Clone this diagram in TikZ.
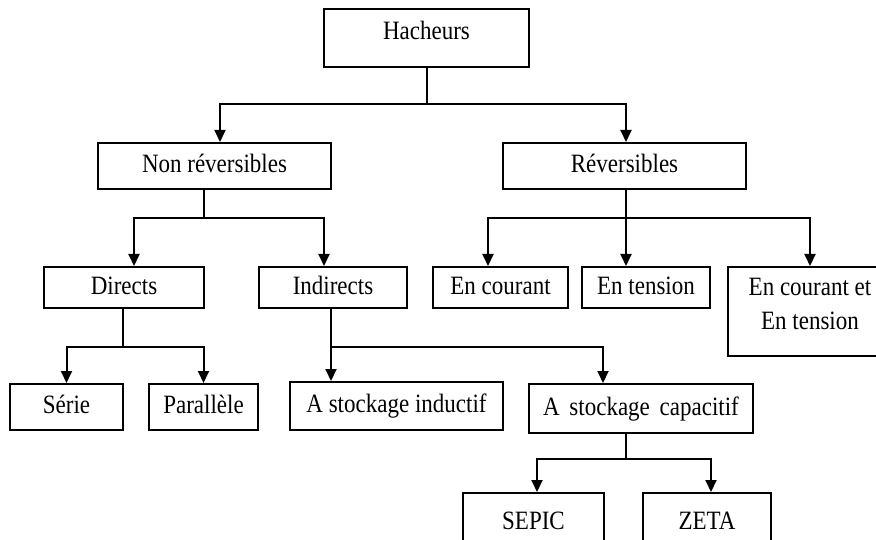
\documentclass[tikz,border=0pt]{standalone}
\usepackage{fontspec}
\setmainfont{Liberation Serif}
\usepackage{graphicx}
\usetikzlibrary{arrows.meta}
\newcommand{\bt}[1]{\scalebox{1}[1.15]{\begin{tabular}{@{}c@{}}#1\end{tabular}}}
\newcommand{\upby}[2]{\raisebox{#1}[\height][\depth]{#2}}
\begin{document}
\begin{tikzpicture}[x=1pt,y=-1pt,
  box/.style={draw=black, line width=2pt, inner sep=0pt, fill=white,
    font=\fontsize{23}{30}\selectfont},
  conn/.style={line width=2pt},
  arr/.style={conn, -{Triangle[width=11pt,length=12pt]}}]
\useasboundingbox (0,0) rectangle (876,540);
\fill[white] (0,0) rectangle (876,540);
\clip (0,0) rectangle (876,540);

% nodes
\node[box, minimum width=205pt, minimum height=58pt] (H) at (426.5,38) {\upby{5pt}{\bt{Hacheurs}}};
\node[box, minimum width=233pt, minimum height=46pt] (NR) at (214.5,166) {\bt{Non réversibles}};
\node[box, minimum width=243pt, minimum height=46pt] (R) at (624.5,166) {\bt{Réversibles}};
\node[box, minimum width=160pt, minimum height=41pt] (D) at (124,287.5) {\bt{Directs}};
\node[box, minimum width=148pt, minimum height=41pt] (I) at (333,287.5) {\bt{Indirects}};
\node[box, minimum width=135pt, minimum height=41pt] (EC) at (500.5,287.5) {\bt{En courant}};
\node[box, minimum width=128pt, minimum height=41pt] (ET) at (646,287.5) {\bt{En tension}};
\node[box, minimum width=164pt, minimum height=89pt] (ECT) at (810,311.5) {\upby{6pt}{\bt{En courant et\\En tension}}};
\node[box, minimum width=113pt, minimum height=46pt] (S) at (66.5,407) {\bt{Série}};
\node[box, minimum width=109pt, minimum height=46pt] (P) at (203.5,407) {\bt{Parallèle}};
\node[box, minimum width=213pt, minimum height=48pt] (ASI) at (396.5,406) {\bt{A stockage inductif}};
\node[box, minimum width=224pt, minimum height=49pt] (ASC) at (641,408.5) {\bt{A\hspace{4pt} stockage\hspace{4pt} capacitif}};
\node[box, minimum width=141pt, minimum height=60pt] (SE) at (533.5,523) {\bt{SEPIC}};
\node[box, minimum width=128pt, minimum height=60pt] (ZE) at (707,523) {\bt{ZETA}};

% bus coordinates
\coordinate (bH) at (426.5,104);
\coordinate (bNR) at (204,218);
\coordinate (bR) at (626,218);
\coordinate (bD) at (123,347);
\coordinate (bI) at (331,347);
\coordinate (bASC) at (626,459);

% connectors
\draw[conn] (H.south) -- (bH);
\draw[arr] (bH) -| ([xshift=5.5pt]NR.north);
\draw[arr] (bH) -| ([xshift=1.5pt]R.north);

\draw[conn] (NR.south -| bNR) -- (bNR);
\draw[arr] (bNR) -| ([xshift=10pt]D.north);
\draw[arr] (bNR) -| ([xshift=-9pt]I.north);

\draw[conn] (R.south -| bR) -- (bR);
\draw[arr] (bR) -| ([xshift=-12.5pt]EC.north);
\draw[arr] (bR) -- (ET.north -| bR);
\draw[arr] (bR) -| (ECT.north);

\draw[conn] (D.south -| bD) -- (bD);
\draw[arr] (bD) -| (S.north);
\draw[arr] (bD) -| (P.north);

\draw[conn] (I.south -| bI) -- (bI);
\draw[arr] (bI) -- (ASI.north -| bI);
\draw[arr] (bI) -| ([xshift=-38pt]ASC.north);

\draw[conn] (ASC.south -| bASC) -- (bASC);
\draw[arr] (bASC) -| ([xshift=3.5pt]SE.north);
\draw[arr] (bASC) -| ([xshift=4pt]ZE.north);
\end{tikzpicture}
\end{document}
